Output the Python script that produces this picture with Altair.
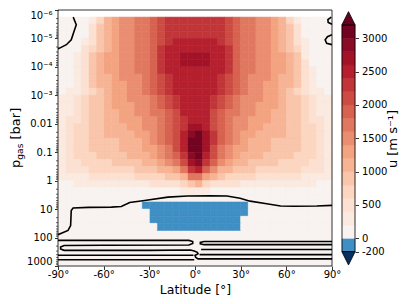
import math
import altair as alt
import pandas as pd

# ---------------- data ----------------
# column centres (deg); cells are 5 deg wide
LAT_N = [2.5, 7.5, 12.5, 17.5, 22.5, 27.5, 32.5, 37.5, 42.5, 47.5, 52.5, 57.5, 62.5, 67.5, 72.5, 77.5, 82.5, 87.5]
LAT_S = [-2.5, -7.5, -12.5, -17.5, -22.5, -27.5, -32.5, -37.5, -42.5, -47.5, -52.5, -57.5, -62.5, -67.5, -72.5, -77.5, -82.5, -87.5]
# row centres, log10(p / bar); rows are 0.25 decade tall
LOGP = [-5.625, -5.375, -5.125, -4.875, -4.625, -4.375, -4.125, -3.875, -3.625, -3.375,
        -3.125, -2.875, -2.625, -2.375, -2.125, -1.875, -1.625, -1.375, -1.125, -0.875,
        -0.625, -0.375, -0.125, 0.125, 0.375, 0.625, 0.875, 1.125, 1.375, 1.625]

# zonal wind u in units of 100 m/s, northern columns (equator -> pole)
U_NORTH = [
    [23, 23, 23, 22.5, 21, 19, 17.4, 16.1, 15.1, 14.1, 12.5, 10.3, 7.7, 3.5, 1, 0.8, 0.6, 0.5],
    [23, 23, 23, 22.5, 21, 19, 17.4, 16.2, 15.2, 14.2, 12.7, 10.6, 8, 4, 1.2, 0.8, 0.6, 0.5],
    [23.5, 23.5, 23, 22.5, 21, 19.2, 17.5, 16.3, 15.3, 14.3, 12.9, 11, 8.4, 4.8, 1.6, 0.9, 0.6, 0.5],
    [24.5, 24.5, 24, 23, 21.2, 19.4, 17.6, 16.4, 15.4, 14.4, 13.1, 11.3, 8.8, 5.6, 2.2, 1, 0.7, 0.5],
    [25.5, 25, 24.5, 24, 22, 19.6, 17.8, 16.5, 15.6, 14.6, 13.3, 11.6, 9.3, 6.4, 3, 1.2, 0.8, 0.6],
    [26.5, 26, 24.5, 24, 22, 19.2, 17.4, 16.1, 15.3, 14.4, 13.4, 12.1, 10.5, 8.3, 3.7, 1.5, 1, 0.7],
    [26.5, 26, 24.5, 24, 22, 19.2, 17.4, 16.1, 15.3, 14.4, 13.4, 12.1, 10.5, 8.3, 4, 1.8, 1.1, 0.8],
    [25.5, 25, 24.5, 24, 22, 19, 17.2, 16, 15.1, 14.2, 13.2, 12, 10.4, 8.3, 4.5, 2.1, 1.2, 0.9],
    [25, 24.5, 24.5, 23.5, 21.5, 18.8, 17, 15.8, 14.9, 14, 13, 11.8, 10.2, 8.1, 5, 2.5, 1.4, 1],
    [25, 24.5, 24.5, 23, 21, 18.5, 16.8, 15.6, 14.7, 13.8, 12.8, 11.5, 10, 8, 5.4, 3, 1.7, 1.2],
    [25, 24.5, 24, 22.5, 20.5, 18.2, 16.5, 15.3, 14.5, 13.6, 12.6, 11.2, 9.8, 7.9, 5.8, 3.5, 2.1, 1.5],
    [25, 24.5, 23, 20.8, 18.6, 17.1, 15.9, 15.1, 14.3, 13.3, 12.3, 11.1, 9.8, 8.2, 6.5, 4.8, 3.4, 2.1],
    [24.5, 24.5, 22, 20, 18, 16.6, 15.4, 14.6, 13.8, 12.9, 12, 11, 9.8, 8.3, 6.7, 5, 3.6, 2.4],
    [24.5, 24, 21.5, 19.5, 17.6, 16.2, 15, 14.1, 13.3, 12.4, 11.6, 10.8, 9.7, 8.4, 6.9, 5.3, 3.9, 2.7],
    [25.5, 24.5, 21, 19, 17.2, 15.8, 14.6, 13.6, 12.8, 12, 11.2, 10.6, 9.7, 8.5, 7.3, 5.9, 4.5, 3.2],
    [27.5, 25.5, 21.5, 18.6, 16.8, 15.4, 14.2, 13.1, 12.3, 11.5, 10.9, 10.4, 9.6, 8.6, 7.4, 6.1, 4.8, 3.5],
    [30.5, 26, 22, 18.5, 16.4, 15, 13.7, 12.6, 11.8, 11.1, 10.6, 10.2, 9.5, 8.6, 7.5, 6.3, 5, 3.7],
    [31.5, 26.5, 22, 18.3, 16.2, 14.5, 13, 11.8, 11.1, 10.4, 9.8, 9.3, 8.8, 8.3, 7.5, 6.5, 5.3, 3.9],
    [31.5, 26, 21, 17.5, 15.3, 13.8, 12.4, 11.3, 10.6, 10, 9.5, 9, 8.6, 8.1, 7.3, 6.3, 5.2, 3.9],
    [30, 25, 20, 16.5, 14.2, 12.8, 11.6, 10.7, 10, 9.4, 8.9, 8.5, 8.1, 7.6, 6.9, 6, 5, 3.8],
    [28, 23.5, 18, 14.5, 12.6, 11.3, 10.3, 9.5, 8.9, 8.4, 8, 7.6, 7.2, 6.8, 6.2, 5.4, 4.6, 3.5],
    [24, 18.5, 14.2, 11.9, 10.4, 9.6, 8.9, 8.3, 7.8, 7.5, 7.1, 6.8, 6.4, 6, 5.5, 4.9, 4.3, 3.5],
    [17.5, 13, 10.2, 8.9, 7.8, 7.3, 6.8, 6.2, 5.8, 5.5, 5.2, 4.8, 4.5, 4.2, 3.9, 3.5, 3.2, 2.8],
    [10, 7.2, 5.9, 5.3, 4.8, 4.3, 3.9, 3.6, 3.5, 3.3, 3.1, 2.9, 2.7, 2.5, 2.3, 2.1, 1.9, 1.7],
    [3.5, 2.2, 1.5, 1, 1, 1, 1, 1, 1, 1, 1, 1, 1, 1, 1, 1, 1, 1],
    [1, 1, 1, 1, 1, 1, 1, 1, 1, 1, 1, 1, 1, 1, 1, 1, 1, 1],
    [-1, -1, -1, -1, -1, -1, -1, 1, 1, 1, 1, 1, 1, 1, 1, 1, 1, 1],
    [-1, -1, -1, -1, -1, -1, -1, 1, 1, 1, 1, 1, 1, 1, 1, 1, 1, 1],
    [-1, -1, -1, -1, -1, -1, 1, 1, 1, 1, 1, 1, 1, 1, 1, 1, 1, 1],
    [-1, -1, -1, -1, -1, -1, 1, 1, 1, 1, 1, 1, 1, 1, 1, 1, 1, 1],
]
# southern columns (equator -> pole)
U_SOUTH = [
    [23, 23, 23, 22.5, 21, 19, 17.4, 16.1, 15.1, 14.1, 12.5, 10.3, 7.7, 3.5, 1, 0.8, 0.6, 0.5],
    [23, 23, 23, 22.5, 21, 19, 17.4, 16.2, 15.2, 14.2, 12.7, 10.6, 8, 4, 1.2, 0.8, 0.6, 0.5],
    [23.5, 23.5, 23, 22.5, 21, 19.2, 17.5, 16.3, 15.3, 14.3, 12.9, 11, 8.4, 4.8, 1.6, 0.9, 0.6, 0.5],
    [24.5, 24.5, 24, 23, 21.2, 19.4, 17.6, 16.4, 15.4, 14.4, 13.1, 11.3, 8.8, 5.6, 2.2, 1, 0.7, 0.5],
    [25.5, 25, 24.5, 24, 22, 19.6, 17.8, 16.5, 15.6, 14.6, 13.3, 11.8, 9.8, 7.2, 4, 1.4, 0.8, 0.6],
    [26.5, 26, 24.5, 24, 22, 19.2, 17.4, 16.1, 15.3, 14.4, 13.4, 12.3, 10.8, 8.8, 5, 2, 1, 0.7],
    [26.5, 26, 24.5, 24, 22, 19.2, 17.4, 16.1, 15.3, 14.4, 13.4, 12.3, 10.8, 8.8, 5.2, 2.3, 1.2, 0.8],
    [25.5, 25, 24.5, 24, 22, 19, 17.2, 16, 15.1, 14.2, 13.2, 12.1, 10.6, 8.6, 5.3, 2.6, 1.3, 0.9],
    [25, 24.5, 24.5, 23.5, 21.5, 18.8, 17, 15.8, 14.9, 14, 13, 11.8, 10.2, 8.1, 5, 2.5, 1.4, 1],
    [25, 24.5, 24.5, 23, 21, 18.5, 16.8, 15.6, 14.7, 13.8, 12.8, 11.5, 10, 8, 5.4, 3, 1.7, 1.2],
    [25, 24.5, 24, 22.5, 20.5, 18.2, 16.5, 15.3, 14.5, 13.6, 12.6, 11.2, 9.8, 7.9, 5.8, 3.5, 2.1, 1.5],
    [25, 24.5, 23, 20.8, 18.6, 17.1, 15.9, 15.1, 14.3, 13.3, 12.3, 11.1, 9.8, 8.2, 6.5, 4.8, 3.4, 2.1],
    [24.5, 24.5, 22, 20, 18, 16.6, 15.4, 14.6, 13.8, 12.9, 12, 11, 9.8, 8.3, 6.7, 5, 3.6, 2.4],
    [24.5, 24, 21.5, 19.5, 17.6, 16.2, 15, 14.1, 13.3, 12.4, 11.6, 10.8, 9.7, 8.4, 6.9, 5.3, 3.9, 2.7],
    [25, 23.5, 21, 19, 17.2, 15.8, 14.6, 13.6, 12.8, 12, 11.2, 10.6, 9.7, 8.5, 7.3, 5.9, 4.5, 3.2],
    [26.5, 23.5, 20.5, 18.6, 16.8, 15.4, 14.2, 13.1, 12.3, 11.5, 10.9, 10.4, 9.6, 8.6, 7.4, 6.1, 4.8, 3.5],
    [29.5, 24, 21, 18.5, 16.4, 15, 13.7, 12.6, 11.8, 11.1, 10.6, 10.2, 9.5, 8.6, 7.5, 6.3, 5, 3.7],
    [30.5, 24.5, 21, 18.3, 16.2, 14.5, 13, 11.8, 11.1, 10.4, 9.8, 9.3, 8.8, 8.3, 7.5, 6.5, 5.3, 3.9],
    [30.5, 24, 20, 17.5, 15.3, 13.8, 12.4, 11.3, 10.6, 10, 9.5, 9, 8.6, 8.1, 7.3, 6.3, 5.2, 3.9],
    [29, 23, 19, 16.5, 14.2, 12.8, 11.6, 10.7, 10, 9.4, 8.9, 8.5, 8.1, 7.6, 6.9, 6, 5, 3.8],
    [27, 21.5, 17, 14.5, 12.6, 11.3, 10.3, 9.5, 8.9, 8.4, 8, 7.6, 7.2, 6.8, 6.2, 5.4, 4.6, 3.5],
    [23, 16.5, 13.4, 11.9, 10.4, 9.6, 8.9, 8.3, 7.8, 7.5, 7.1, 6.8, 6.4, 6, 5.5, 4.9, 4.3, 3.5],
    [16.5, 11.6, 9.6, 8.9, 7.8, 7.3, 6.8, 6.2, 5.8, 5.5, 5.2, 4.8, 4.5, 4.2, 3.9, 3.5, 3.2, 2.8],
    [9, 6.6, 5.9, 5.3, 4.8, 4.3, 3.9, 3.6, 3.5, 3.3, 3.1, 2.9, 2.7, 2.5, 2.3, 2.1, 1.9, 1.7],
    [3.5, 2.2, 1.5, 1, 1, 1, 1, 1, 1, 1, 1, 1, 1, 1, 1, 1, 1, 1],
    [1, 1, 1, 1, 1, 1, 1, 1, 1, 1, 1, 1, 1, 1, 1, 1, 1, 1],
    [-1, -1, -1, -1, -1, -1, -1, 1, 1, 1, 1, 1, 1, 1, 1, 1, 1, 1],
    [-1, -1, -1, -1, -1, -1, 1, 1, 1, 1, 1, 1, 1, 1, 1, 1, 1, 1],
    [-1, -1, -1, -1, -1, -1, 1, 1, 1, 1, 1, 1, 1, 1, 1, 1, 1, 1],
    [-1, -1, -1, -1, -1, 1, 1, 1, 1, 1, 1, 1, 1, 1, 1, 1, 1, 1],
]

# black contour lines: (latitude, log10 p)
CONTOURS = {
    "A": [(-90, 1.90), (-83.4, 1.75), (-81.7, 1.58), (-81.3, 1.05), (-80.1, 0.96), (-70, 0.94),
          (-55, 0.93), (-48.4, 0.91), (-42.9, 0.77), (-33.1, 0.70), (-17.8, 0.58), (-5, 0.54),
          (10, 0.53), (21, 0.54), (29.6, 0.62), (36.2, 0.72), (47.1, 0.81), (56.2, 0.89),
          (65, 0.90), (80, 0.89), (90, 0.87)],
    "B": [(-80, -5.75), (-78, -5.48), (-79.5, -5.24), (-81.3, -4.95), (-84.5, -4.78), (-88.9, -4.66), (-90, -4.64)],
    "C1": [(89.5, -5.75), (87.3, -5.66), (87.5, -5.56), (90, -5.5)],
    "C2": [(90, -5.13), (87, -5.06), (85.5, -4.95), (86.5, -4.83), (90, -4.78)],
    "S1": [(-90, 2.10), (-4, 2.10), (-1.5, 2.14), (-1.5, 2.21), (-4, 2.26), (-60, 2.27), (-86, 2.28),
           (-88.3, 2.33), (-88.3, 2.40), (-86, 2.45), (-30, 2.45), (-3, 2.44), (-0.5, 2.47),
           (1.5, 2.52), (2, 2.57), (0, 2.63), (0.5, 2.70), (2, 2.75), (90, 2.75)],
    "L3": [(-90, 2.62), (-1, 2.62)],
    "L4": [(-90, 2.78), (-0.5, 2.78)],
    "R1": [(90, 2.14), (6, 2.14), (3.5, 2.17), (3.5, 2.22), (6, 2.25), (90, 2.25)],
    "R2": [(4, 2.42), (90, 2.42)],
    "R3": [(3, 2.60), (90, 2.60)],
}

LEVELS = [-200, 0, 200, 400, 600, 800, 1000, 1200, 1400, 1600, 1800, 2000, 2200, 2400, 2600, 2800, 3000, 3200]
CBAR_TICKS = [-200, 0, 500, 1000, 1500, 2000, 2500, 3000]
X_TICKS = [-90, -60, -30, 0, 30, 60, 90]
Y_TICKS = [-6, -5, -4, -3, -2, -1, 0, 1, 2, 3]
Y_LABELS = ["10\u207b\u2076", "10\u207b\u2075", "10\u207b\u2074", "10\u207b\u00b3", "0.01", "0.1", "1", "10", "100", "1000"]

# ---------------- colours (RdBu_r) ----------------
ANCHORS = ["#053061", "#2166ac", "#4393c3", "#92c5de", "#d1e5f0", "#f7f7f7",
           "#fddbc7", "#f4a582", "#d6604d", "#b2182b", "#67001f"]


def rdbu_r(t):
    t = min(max(t, 0.0), 1.0) * 10
    i = min(int(t), 9)
    f = t - i
    a = [int(ANCHORS[i][k:k + 2], 16) for k in (1, 3, 5)]
    b = [int(ANCHORS[i + 1][k:k + 2], 16) for k in (1, 3, 5)]
    return "#%02x%02x%02x" % tuple(round(a[m] + (b[m] - a[m]) * f) for m in range(3))


BAND_COLORS = [rdbu_r(0.5 + 0.5 * (LEVELS[i] + LEVELS[i + 1]) / 2 / 3200) for i in range(1, len(LEVELS) - 1)]
COLORS = ["#053061", "#3f8fc4"] + BAND_COLORS + ["#67001f"]
THRESH = alt.Scale(type="threshold", domain=LEVELS, range=COLORS)

# ---------------- tables ----------------
cells = []
for j, lp in enumerate(LOGP):
    for lats, rows in ((LAT_N, U_NORTH), (LAT_S, U_SOUTH)):
        for k, lat in enumerate(lats):
            cells.append({"lat0": lat - 2.5, "lat1": lat + 2.5, "lp0": lp - 0.125, "lp1": lp + 0.125,
                          "u": rows[j][k] * 100})
cells_df = pd.DataFrame(cells)
bg_df = pd.DataFrame([{"lat0": -90, "lat1": 90, "lp0": -5.75, "lp1": 3.0, "u": 100}])

lines = []
for name, pts in CONTOURS.items():
    for o, (la, lp) in enumerate(pts):
        lines.append({"id": name, "ord": o, "lat": la, "lp": lp})
lines_df = pd.DataFrame(lines)

minor_df = pd.DataFrame([{"lp": e + math.log10(m)} for e in range(-6, 3) for m in range(2, 10)])

cbar_df = pd.DataFrame([{"lo": LEVELS[i], "hi": LEVELS[i + 1], "mid": (LEVELS[i] + LEVELS[i + 1]) / 2}
                        for i in range(len(LEVELS) - 1)])
outline_df = pd.DataFrame([{"lo": LEVELS[0], "hi": LEVELS[-1]}])

# ---------------- encodings ----------------
FONT = "DejaVu Sans"
W, H = 274, 256
XS = alt.Scale(domain=[-90, 90], nice=False, zero=False)
YS = alt.Scale(domain=[-6, 3], reverse=True, nice=False, zero=False)
X_AXIS = alt.Axis(values=X_TICKS, labelExpr="datum.value + '\u00b0'", title="Latitude [\u00b0]",
                  titleFontSize=12.5, titleFontWeight="normal", titleY=27, titleBaseline="alphabetic",
                  grid=False, domain=False,
                  tickSize=3.5, tickWidth=0.8, tickColor="black", labelFontSize=10, labelColor="black",
                  labelPadding=0, labelFlush=False, labelFont=FONT, titleFont=FONT, titleColor="black")
label_arr = "[" + ",".join("'" + s + "'" for s in Y_LABELS) + "]"
Y_AXIS = alt.Axis(values=Y_TICKS, labelExpr=label_arr + "[round(datum.value) + 6]", title=None,
                  grid=False, domain=False, tickSize=3.5, tickWidth=0.8, tickColor="black",
                  labelFontSize=10, labelColor="black", labelPadding=2.5, labelFlush=2, labelFont=FONT)
CB_SCALE = alt.Scale(domain=[-415.5, 3424.5], nice=False, zero=False)
CB_AXIS = alt.Axis(values=CBAR_TICKS, labelExpr="'' + datum.value", title=None, orient="right",
                   offset=23, grid=False, domain=False, tickSize=3.5, tickWidth=0.8, tickColor="black",
                   labelFontSize=10, labelColor="black", labelPadding=3, labelFlush=False, labelFont=FONT)

bg = alt.Chart(bg_df).mark_rect().encode(
    x=alt.X("lat0:Q", scale=XS, axis=X_AXIS), x2="lat1:Q",
    y=alt.Y("lp0:Q", scale=YS, axis=Y_AXIS), y2="lp1:Q",
    fill=alt.Fill("u:Q", scale=THRESH, legend=None))

heat = alt.Chart(cells_df).mark_rect(strokeWidth=0.6).encode(
    x=alt.X("lat0:Q", scale=XS, axis=X_AXIS), x2="lat1:Q",
    y=alt.Y("lp0:Q", scale=YS, axis=Y_AXIS), y2="lp1:Q",
    fill=alt.Fill("u:Q", scale=THRESH, legend=None),
    stroke=alt.Stroke("u:Q", scale=THRESH, legend=None))

contour = alt.Chart(lines_df).mark_line(color="black", strokeWidth=1.6, clip=True).encode(
    x=alt.X("lat:Q", scale=XS, axis=X_AXIS),
    y=alt.Y("lp:Q", scale=YS, axis=Y_AXIS),
    detail="id:N", order="ord:Q")

minor = alt.Chart(minor_df).mark_rule(color="black", strokeWidth=0.6).encode(
    x=alt.value(-2), x2=alt.value(0), y=alt.Y("lp:Q", scale=YS, axis=Y_AXIS))

frame = alt.Chart(bg_df).mark_rect(fill="transparent", stroke="black", strokeWidth=0.8).encode(
    x=alt.value(0), x2=alt.value(W), y=alt.value(0), y2=alt.value(H))

t_p = alt.Chart(bg_df).mark_text(text="p", angle=270, align="left", baseline="alphabetic",
                                  fontSize=13, font=FONT, color="black").encode(
    x=alt.value(-38.5), y=alt.value(158))
t_gas = alt.Chart(bg_df).mark_text(text="gas", angle=270, align="left", baseline="alphabetic",
                                    fontSize=9.1, font=FONT, color="black").encode(
    x=alt.value(-35.5), y=alt.value(149.7))
t_bar = alt.Chart(bg_df).mark_text(text="[bar]", angle=270, align="left", baseline="alphabetic",
                                    fontSize=13, font=FONT, color="black").encode(
    x=alt.value(-38.5), y=alt.value(129.5))
t_u = alt.Chart(bg_df).mark_text(text="u [m s\u207b\u00b9]", angle=270, align="center", baseline="middle",
                                  fontSize=13, font=FONT, color="black").encode(
    x=alt.value(335), y=alt.value(129))

main = alt.layer(bg, heat, contour, frame, minor, t_p, t_gas, t_bar, t_u)

cb_rects = alt.Chart(cbar_df).mark_rect(strokeWidth=0.5).encode(
    x=alt.value(284), x2=alt.value(297),
    y=alt.Y("lo:Q", scale=CB_SCALE, axis=CB_AXIS), y2="hi:Q",
    fill=alt.Fill("mid:Q", scale=THRESH, legend=None),
    stroke=alt.Stroke("mid:Q", scale=THRESH, legend=None))
cb_outline = alt.Chart(outline_df).mark_rect(fill="transparent", stroke="black", strokeWidth=0.8).encode(
    x=alt.value(284), x2=alt.value(297),
    y=alt.Y("lo:Q", scale=CB_SCALE, axis=CB_AXIS), y2="hi:Q")
up_df = pd.DataFrame([{"v": 3300}])
down_df = pd.DataFrame([{"v": -300}])
cb_up = alt.Chart(up_df).mark_point(shape="M-1,1L1,1L0,-1Z", filled=True, fill="#67001f", stroke="black",
                                    strokeWidth=0.8, size=177, opacity=1).encode(
    x=alt.value(290.5), y=alt.Y("v:Q", scale=CB_SCALE, axis=CB_AXIS))
cb_down = alt.Chart(down_df).mark_point(shape="M-1,-1L1,-1L0,1Z", filled=True, fill="#053061", stroke="black",
                                        strokeWidth=0.8, size=177, opacity=1).encode(
    x=alt.value(290.5), y=alt.Y("v:Q", scale=CB_SCALE, axis=CB_AXIS))

cbar = alt.layer(cb_rects, cb_outline, cb_up, cb_down)

chart = alt.layer(main, cbar).resolve_scale(y="independent").properties(
    width=W, height=H,
    autosize=alt.AutoSizeParams(type="none"),
    padding={"left": 50, "top": 2, "right": 67, "bottom": 30},
    background="white",
).configure_view(stroke=None)

chart.save("out.html", embed_options={"renderer": "svg", "actions": False})
